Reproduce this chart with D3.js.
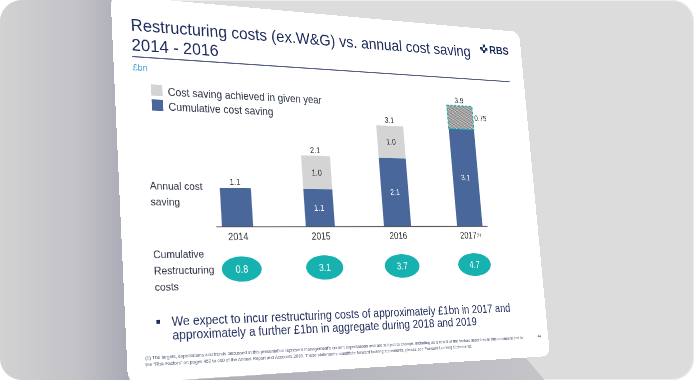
<!DOCTYPE html>
<html>
<head>
<meta charset="utf-8">
<script src="https://cdn.jsdelivr.net/npm/d3@7"></script>
<style>
  html, body { margin: 0; padding: 0; background: #fff; }
  #card {
    position: relative; width: 694px; height: 380px; overflow: hidden;
    border-radius: 22px; background: #dcdcdc;
    box-shadow: inset 0 0 0 1px #ececec;
  }
  #bg { position: absolute; left: 0; top: 0; }
  #slide {
    position: absolute; left: 0; top: 0; width: 800px; height: 600px;
    background: #fff; border-radius: 16px; transform-origin: 0 0;
  }
  text { font-family: "Liberation Sans", Arial, sans-serif; }
</style>
</head>
<body>
<div id="card">
  <svg id="bg" width="694" height="380"></svg>
  <div id="slide"></div>
</div>
<script>
// data
const years = ["2014", "2015", "2016", "2017"];
const cumSaving = [1.1, 1.1, 2.1, 3.1];      // blue, cumulative cost saving
const yearSaving = [0, 1.0, 1.0, 0];         // grey, achieved in given year
const targetSaving = [0, 0, 0, 0.75];        // hatched 2017 target
const totalLabels = ["1.1", "2.1", "3.1", "3.9"];
const restructCosts = ["0.8", "3.1", "3.7", "4.7"];

const W = 800, H = 600;
const navy = "#1e2c5c", ink = "#2b3244", blue = "#4a679c", grey = "#d4d4d4", teal = "#17b1b0";

// background of the photo: shadows round the slide
const bg = d3.select("#bg");
const defs0 = bg.append("defs");
const lg = defs0.append("linearGradient").attr("id", "leftShade").attr("x1", 0).attr("x2", 1).attr("y1", 0).attr("y2", 0);
lg.append("stop").attr("offset", "0%").attr("stop-color", "#d2d2d3");
lg.append("stop").attr("offset", "60%").attr("stop-color", "#c2c2c7");
lg.append("stop").attr("offset", "100%").attr("stop-color", "#a9a9b5");
const bgShade = defs0.append("linearGradient").attr("id", "botShade").attr("x1", 0).attr("x2", 1).attr("y1", 0).attr("y2", 0);
bgShade.append("stop").attr("offset", "0%").attr("stop-color", "#a9a9b4");
bgShade.append("stop").attr("offset", "100%").attr("stop-color", "#c4c4c9");
bg.append("path").attr("d", "M0,0L112,0L130,390L0,390Z").attr("fill", "url(#leftShade)");
bg.append("path").attr("d", "M125,384L525,357L548,384Z").attr("fill", "url(#botShade)");

// the slide, drawn flat then projected
const slide = d3.select("#slide");
const svg = slide.append("svg").attr("width", W).attr("height", H);
const defs = svg.append("defs");
const pat = defs.append("pattern").attr("id", "hatch").attr("width", 3).attr("height", 3)
  .attr("patternUnits", "userSpaceOnUse");
pat.append("rect").attr("width", 3).attr("height", 3).attr("fill", "#dadada");
pat.append("rect").attr("width", 1.5).attr("height", 1.5).attr("fill", "#6a6a6a");
pat.append("rect").attr("x", 1.5).attr("y", 1.5).attr("width", 1.5).attr("height", 1.5).attr("fill", "#6a6a6a");

// title
const title = svg.append("g").attr("fill", navy).style("font-size", "28px");
title.append("text").attr("x", 31).attr("y", 55).text("Restructuring costs (ex.W&G) vs. annual cost saving");
title.append("text").attr("x", 31).attr("y", 87).text("2014 - 2016");

// RBS logo
const logo = svg.append("g").attr("transform", "translate(715,38)").attr("fill", navy);
for (let i = 0; i < 4; i++) {
  logo.append("path").attr("d", "M-2,-2L-2,-8L3,-8L3,-4L8,-4Z").attr("transform", `rotate(${i * 90})`);
}
svg.append("text").attr("x", 727).attr("y", 46).attr("fill", navy)
  .style("font-size", "21px").style("font-weight", "bold").text("RBS");

svg.append("line").attr("x1", 31).attr("x2", 767).attr("y1", 97).attr("y2", 97)
  .attr("stroke", navy).attr("stroke-width", 1.6);

svg.append("text").attr("x", 31).attr("y", 119).attr("fill", "#3d9ad1")
  .style("font-size", "15px").text("£bn");

// legend
const legend = [["Cost saving achieved in given year", grey], ["Cumulative cost saving", blue]];
legend.forEach(([label, col], i) => {
  svg.append("rect").attr("x", 60).attr("y", 140 + i * 24).attr("width", 19).attr("height", 18).attr("fill", col);
  svg.append("text").attr("x", 88).attr("y", 157 + i * 24).attr("fill", ink)
    .style("font-size", "18px").text(label);
});

// row labels
const rowLab = svg.append("g").attr("fill", ink).style("font-size", "17px");
["Annual cost", "saving"].forEach((t, i) => rowLab.append("text").attr("x", 50).attr("y", 307 + i * 25).text(t));
["Cumulative", "Restructuring", "costs"].forEach((t, i) => rowLab.append("text").attr("x", 50).attr("y", 414 + i * 25).text(t));

// scales
const x = d3.scaleBand().domain(years).range([158, 687]).paddingInner(0.636).paddingOuter(0.07);
const y = d3.scaleLinear().domain([0, 4]).range([365, 139.4]);

const rows = years.map((yr, i) => ({ year: yr, cum: cumSaving[i], yr_: yearSaving[i], tgt: targetSaving[i] }));
const series = d3.stack().keys(["cum", "yr_", "tgt"])(rows);
const fills = { cum: blue, yr_: grey, tgt: "url(#hatch)" };

svg.append("g").selectAll("g").data(series).join("g")
  .attr("fill", s => fills[s.key])
  .selectAll("rect").data(s => s.filter(d => d[1] > d[0])).join("rect")
  .attr("x", d => x(d.data.year))
  .attr("width", x.bandwidth())
  .attr("y", d => y(d[1]))
  .attr("height", d => y(d[0]) - y(d[1]));

// dashed outline round the 2017 target
const tg = series[2].filter(d => d[1] > d[0]);
svg.append("g").selectAll("rect").data(tg).join("rect")
  .attr("x", d => x(d.data.year)).attr("width", x.bandwidth())
  .attr("y", d => y(d[1])).attr("height", d => y(d[0]) - y(d[1]))
  .attr("fill", "none").attr("stroke", teal).attr("stroke-width", 2).attr("stroke-dasharray", "5,3");

// axis
const axis = svg.append("g").attr("transform", `translate(0,${y(0)})`)
  .call(d3.axisBottom(x).tickSize(0).tickSizeOuter(0).tickPadding(11));
axis.select(".domain").attr("stroke", "#555").attr("stroke-width", 1.6);
axis.selectAll("text").attr("fill", "#333").style("font-size", "16px")
  .style("font-family", "'Liberation Sans', Arial, sans-serif");
axis.selectAll(".tick text").filter(d => d === "2017")
  .append("tspan").attr("dy", "-0.6em").style("font-size", "8px").text("(1)");

// value labels
const cx = yr => x(yr) + x.bandwidth() / 2;
const barTop = i => cumSaving[i] + yearSaving[i] + targetSaving[i];
svg.append("g").selectAll("text").data(years).join("text")
  .attr("x", cx).attr("y", (d, i) => y(barTop(i)) - 5)
  .attr("text-anchor", "middle").attr("fill", "#333").style("font-size", "14px")
  .text((d, i) => totalLabels[i]);

svg.append("g").selectAll("text").data(rows.filter(r => r.yr_ > 0)).join("text")
  .attr("x", d => cx(d.year)).attr("y", d => y(d.cum + d.yr_ / 2) + 5)
  .attr("text-anchor", "middle").attr("fill", "#333").style("font-size", "14px")
  .text(d => d3.format(".1f")(d.yr_));

svg.append("g").selectAll("text").data(rows.filter(r => r.yr_ > 0 || r.tgt > 0)).join("text")
  .attr("x", d => cx(d.year)).attr("y", d => y(d.cum / 2) + 5)
  .attr("text-anchor", "middle").attr("fill", "#fff").style("font-size", "14px")
  .text(d => d3.format(".1f")(d.cum));

svg.append("g").selectAll("text").data(rows.filter(r => r.tgt > 0)).join("text")
  .attr("x", d => x(d.year) + x.bandwidth() + 3).attr("y", d => y(d.cum + d.tgt / 2) + 5)
  .attr("fill", "#333").style("font-size", "14px")
  .text(d => d.tgt);

// restructuring cost bubbles
const bub = svg.append("g").selectAll("g").data(years).join("g")
  .attr("transform", d => `translate(${cx(d) + 3},433)`);
bub.append("ellipse").attr("rx", 35).attr("ry", 20).attr("fill", teal);
bub.append("text").attr("text-anchor", "middle").attr("y", 6).attr("fill", "#fff")
  .style("font-size", "16px").text((d, i) => restructCosts[i]);

// bullet
svg.append("rect").attr("x", 50).attr("y", 508).attr("width", 6).attr("height", 6).attr("fill", navy);
const bul = svg.append("g").attr("fill", navy).style("font-size", "20px");
bul.append("text").attr("x", 75).attr("y", 518)
  .text("We expect to incur restructuring costs of approximately £1bn in 2017 and");
bul.append("text").attr("x", 75).attr("y", 539)
  .text("approximately a further £1bn in aggregate during 2018 and 2019");

// footnote
const fn = svg.append("g").attr("fill", "#4e5873").style("font-size", "7.6px");
fn.append("text").attr("x", 29).attr("y", 567)
  .text("(1) The targets, expectations and trends discussed in this presentation represent management's current expectations and are subject to change, including as a result of the factors described in this document and in");
fn.append("text").attr("x", 29).attr("y", 577)
  .text("the \u201cRisk Factors\u201d on pages 452 to 460 of the Annual Report and Accounts 2016. These statements constitute forward looking statements, please see Forward Looking Statements.");
svg.append("text").attr("x", 776).attr("y", 566).attr("fill", "#4e5873").style("font-size", "7px").text("44");

// perspective: map slide corners onto the photo quad
function quadMatrix(w, h, q) {
  const [[x0, y0], [x1, y1], [x2, y2], [x3, y3]] = q;
  const dx1 = x1 - x2, dx2 = x3 - x2, dx3 = x0 - x1 + x2 - x3;
  const dy1 = y1 - y2, dy2 = y3 - y2, dy3 = y0 - y1 + y2 - y3;
  const den = dx1 * dy2 - dy1 * dx2;
  const g = (dx3 * dy2 - dy3 * dx2) / den;
  const hh = (dx1 * dy3 - dy1 * dx3) / den;
  const a = x1 - x0 + g * x1, b = x3 - x0 + hh * x3, c = x0;
  const d = y1 - y0 + g * y1, e = y3 - y0 + hh * y3, f = y0;
  const m = [a / w, d / w, 0, g / w, b / h, e / h, 0, hh / h, 0, 0, 1, 0, c, f, 0, 1];
  return `matrix3d(${m.join(",")})`;
}
slide.style("transform", quadMatrix(W, H, [[110.5, -5], [519, 32], [550, 356], [128, 383]]));
</script>
</body>
</html>
